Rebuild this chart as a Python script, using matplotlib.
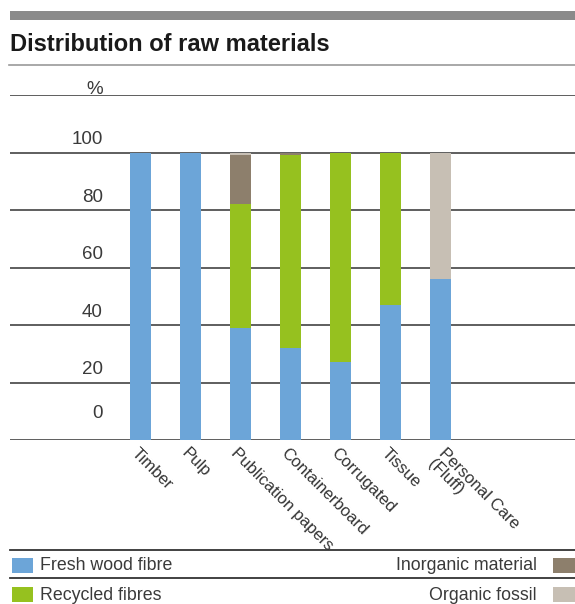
import matplotlib.pyplot as plt
from matplotlib.patches import Rectangle
from matplotlib.lines import Line2D

plt.rcParams['font.family'] = ['Liberation Sans', 'DejaVu Sans']

# data (percent of raw materials)
categories = ['Timber', 'Pulp', 'Publication papers', 'Containerboard',
              'Corrugated', 'Tissue', 'Personal Care\n(Fluff)']
fresh_wood = [100, 100, 39, 32, 27, 47, 56]
recycled = [0, 0, 43, 67, 73, 53, 0]
inorganic = [0, 0, 17, 1, 0, 0, 0]
organic_fossil = [0, 0, 1, 0, 0, 0, 44]
y_ticks = [0, 20, 40, 60, 80, 100]

series = [('Fresh wood fibre', fresh_wood, '#6ca5d8'),
          ('Recycled fibres', recycled, '#96c11f'),
          ('Inorganic material', inorganic, '#8d7f6c'),
          ('Organic fossil', organic_fossil, '#c7bfb4')]

W, H = 575, 604
fig = plt.figure(figsize=(W / 100, H / 100), dpi=100)


def fx(x):
    return x / W


def fy(y):
    return 1 - y / H


# header decoration
fig.add_artist(Rectangle((fx(10), fy(20)), fx(565), 9 / H, transform=fig.transFigure,
                         color='#8a8a8a', lw=0))
fig.text(fx(10), fy(51), 'Distribution of raw materials', fontsize=17,
         fontweight='bold', color='#1a1a1a', va='baseline', ha='left')
fig.add_artist(Line2D([fx(9), 1], [fy(65), fy(65)], transform=fig.transFigure,
                      color='#9a9a9a', lw=1.2))

ax = fig.add_axes([fx(10), fy(440), fx(565), 345 / H])
ax.set_xlim(-2.6, 8.7)
ax.set_ylim(0, 120)
ax.axis('off')

for v in y_ticks + [120]:
    ax.axhline(v, color='#333333', lw=1.1, zorder=1)

# y labels sit above their gridlines
lab_x = (102.7 - 10) / 565
for v in y_ticks:
    off = 9.3 if v == 0 else 4.5
    ax.text(lab_x, v + off, str(v), transform=ax.get_yaxis_transform(),
            ha='right', va='center', fontsize=13.5, color='#3a3a3a')
ax.text(lab_x, 121.8, '%', transform=ax.get_yaxis_transform(),
        ha='right', va='center', fontsize=13.5, color='#3a3a3a')

x = list(range(len(categories)))
bottom = [0] * len(categories)
for name, vals, col in series:
    ax.bar(x, vals, width=0.42, bottom=bottom, color=col, zorder=2, lw=0)
    bottom = [b + v for b, v in zip(bottom, vals)]

for i, lab in enumerate(categories):
    dx = 0.12 if '\n' in lab else -0.02
    ax.text(i + dx, -2.0, lab, rotation=-45, rotation_mode='anchor',
            ha='left', va='top', fontsize=12, color='#333333',
            linespacing=0.95, clip_on=False)

# legend
for y in (550, 578):
    fig.add_artist(Line2D([fx(10), 1], [fy(y), fy(y)], transform=fig.transFigure,
                          color='#333333', lw=1.3))
rows = [(558, 566), (587, 595)]
for k, (name, vals, col) in enumerate(series):
    top, mid = rows[k % 2]
    if k < 2:
        fig.add_artist(Rectangle((fx(11.5), fy(top + 15)), fx(21), 15 / H,
                                 transform=fig.transFigure, color=col, lw=0))
        fig.text(fx(40), fy(mid), name, fontsize=12.8, color='#3a3a3a',
                 ha='left', va='center')
    else:
        fig.add_artist(Rectangle((fx(553), fy(top + 15)), fx(25), 15 / H,
                                 transform=fig.transFigure, color=col, lw=0))
        fig.text(fx(537), fy(mid), name, fontsize=12.8, color='#3a3a3a',
                 ha='right', va='center')

fig.savefig('out.png', dpi=100)
